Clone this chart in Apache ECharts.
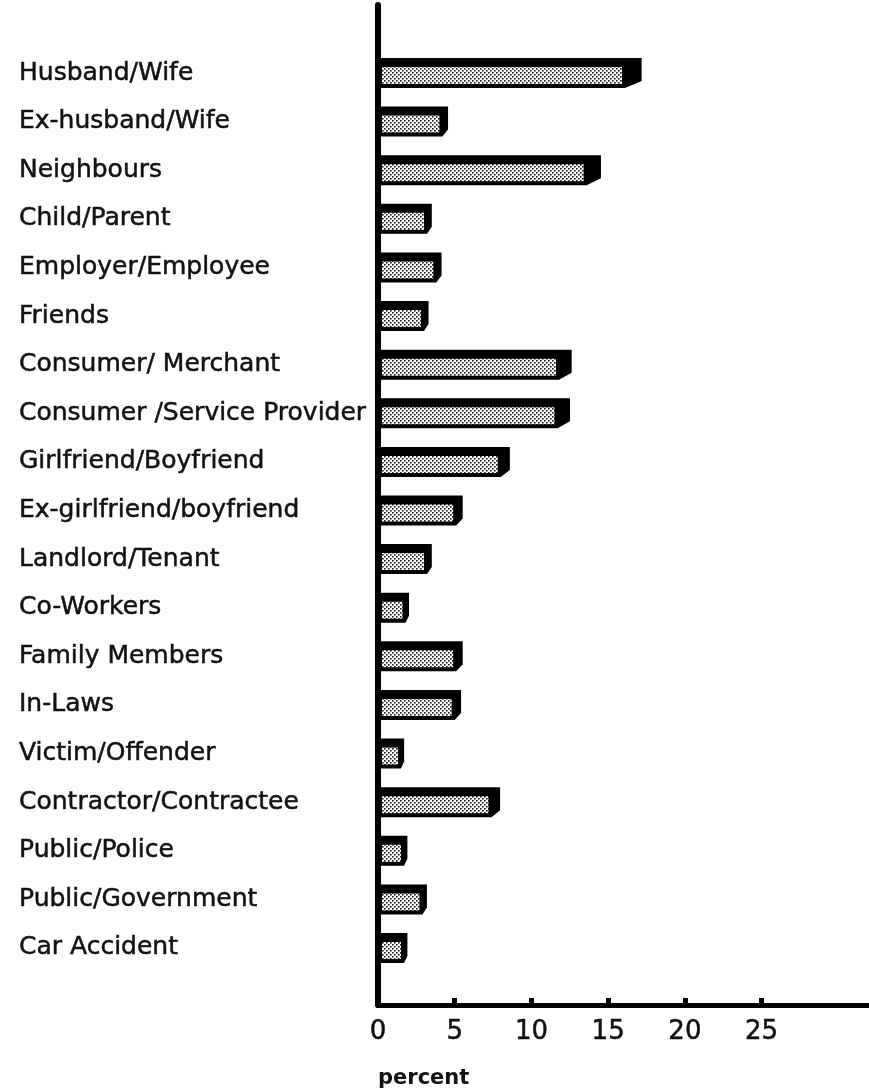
<!DOCTYPE html>
<html>
<head>
<meta charset="utf-8">
<script src="https://cdn.jsdelivr.net/npm/echarts@6/dist/echarts.min.js"></script>
<style>
html,body{margin:0;padding:0;background:#fff;}
#chart{width:869px;height:1092px;}
</style>
</head>
<body>
<div id="chart"></div>
<script>
const categories = [
  "Husband/Wife", "Ex-husband/Wife", "Neighbours", "Child/Parent",
  "Employer/Employee", "Friends", "Consumer/ Merchant",
  "Consumer /Service Provider", "Girlfriend/Boyfriend",
  "Ex-girlfriend/boyfriend", "Landlord/Tenant", "Co-Workers",
  "Family Members", "In-Laws", "Victim/Offender",
  "Contractor/Contractee", "Public/Police", "Public/Government", "Car Accident"
];
const values = [15.9, 4.0, 13.4, 3.0, 3.6, 2.8, 11.6, 11.5, 7.8, 4.9, 3.0, 1.6, 4.9, 4.8, 1.3, 7.2, 1.5, 2.7, 1.5];
const tickValues = [0, 5, 10, 15, 20, 25];
const axisTitle = "percent";

// dotted pattern for bar faces
const pc = document.createElement('canvas');
pc.width = 4; pc.height = 4;
const g = pc.getContext('2d');
g.fillStyle = '#ffffff'; g.fillRect(0, 0, 4, 4);
g.fillStyle = '#1a1a1a';
g.fillRect(0, 0, 1.6, 1.6);
g.fillRect(2, 2, 1.6, 1.6);

const chart = echarts.init(document.getElementById('chart'));
const FONT = 'DejaVu Sans';
const LEFT = 378;
const txt = {fontFamily: FONT, color: '#111', textBorderColor: '#111', textBorderWidth: 0.5};

chart.setOption({
  animation: false,
  backgroundColor: '#ffffff',
  title: {
    text: axisTitle, left: 373, top: 1063,
    textStyle: {fontFamily: FONT, fontSize: 21, fontWeight: 'bold', color: '#111'}
  },
  grid: [
    {left: LEFT, right: 0, top: 48.7, bottom: 1092 - 972.3},
    {left: LEFT, right: 0, top: 5, bottom: 1092 - 1005}
  ],
  xAxis: [
    {gridIndex: 0, type: 'value', min: 0, max: 32, show: false},
    {
      gridIndex: 1, type: 'value', min: 0, max: 32, interval: 5,
      axisLine: {show: true, lineStyle: {color: '#000', width: 5}},
      axisTick: {show: true, inside: true, length: 7, customValues: tickValues.slice(1),
                 lineStyle: {color: '#000', width: 5}},
      axisLabel: Object.assign({show: true, customValues: tickValues, margin: 14, fontSize: 26}, txt),
      splitLine: {show: false}
    }
  ],
  yAxis: [
    {
      gridIndex: 0, type: 'category', data: categories, inverse: true,
      axisLine: {show: false}, axisTick: {show: false}, splitLine: {show: false},
      axisLabel: Object.assign({align: 'left', margin: LEFT - 19, fontSize: 25}, txt)
    },
    {
      gridIndex: 1, type: 'value', min: 0, max: 1,
      axisLine: {show: true, lineStyle: {color: '#000', width: 6}},
      axisTick: {show: false}, axisLabel: {show: false}, splitLine: {show: false}
    }
  ],
  series: [{
    type: 'custom',
    xAxisIndex: 0, yAxisIndex: 0,
    data: values.map((v, i) => [v, i]),
    renderItem: function (params, api) {
      const v = api.value(0), idx = api.value(1);
      const p0 = api.coord([0, idx]);
      const p1 = api.coord([v, idx]);
      const x0 = p0[0], x1 = p1[0], yc = p1[1];
      const len = x1 - x0;
      const dx = 5 + 0.06 * len;
      const yTop = yc - 15, yBot = yc + 15;
      return {
        type: 'group',
        children: [
          {
            type: 'polygon',
            shape: {points: [[x0, yTop], [x1 + dx, yTop], [x1 + dx, yBot - 7], [x1 + 3, yBot], [x0, yBot]]},
            style: {fill: '#000'}
          },
          {
            type: 'rect',
            shape: {x: x0 + 4, y: yTop + 9, width: len - 4, height: 17},
            style: {fill: {image: pc, repeat: 'repeat'}}
          }
        ]
      };
    }
  }]
});
</script>
</body>
</html>
